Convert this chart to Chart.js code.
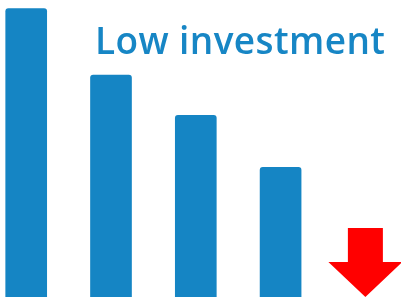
<!DOCTYPE html>
<html>
<head>
<meta charset="utf-8">
<script src="https://cdn.jsdelivr.net/npm/chart.js@4"></script>
<style>
  html, body { margin: 0; padding: 0; background: #fff; }
  #wrap { position: relative; width: 401px; height: 297px; }
  #titulo {
    position: absolute; left: 95px; top: 21px;
    font-family: "Open Sans", sans-serif; font-weight: 600; font-size: 37px;
    letter-spacing: 0.4px;
    color: #1786c5; white-space: nowrap; line-height: 1;
  }
</style>
</head>
<body>
<div id="wrap">
  <canvas id="grafico" width="401" height="297"></canvas>
  <div id="titulo"></div>
</div>
<script>
// dados do grafico
const tituloTexto = 'Low investment';
const posicoes = [0, 1, 2, 3];
const valores = [100, 77, 63, 45];
const posicaoSeta = 4; // slot onde fica a seta vermelha

document.querySelector('#titulo').textContent = tituloTexto;

// desenha a seta para baixo no ultimo slot, ancorada na base do grafico
const setaPlugin = {
    id: 'seta',
    afterDatasetsDraw(chart) {
        const ctx = chart.ctx;
        const x = chart.scales.x.getPixelForValue(posicaoSeta);
        const base = chart.chartArea.bottom;
        const hasteMeia = 17.5, cabecaMeia = 37, cabecaAlt = 35, topo = 69;
        ctx.save();
        ctx.fillStyle = '#ff0000';
        ctx.beginPath();
        ctx.moveTo(x - hasteMeia, base - topo);
        ctx.lineTo(x + hasteMeia, base - topo);
        ctx.lineTo(x + hasteMeia, base - cabecaAlt);
        ctx.lineTo(x + cabecaMeia, base - cabecaAlt);
        ctx.lineTo(x, base);
        ctx.lineTo(x - cabecaMeia, base - cabecaAlt);
        ctx.lineTo(x - hasteMeia, base - cabecaAlt);
        ctx.closePath();
        ctx.fill();
        ctx.restore();
    }
};

const grafico = new Chart(document.querySelector('#grafico'), {
    type: 'bar',
    data: {
        datasets: [{
            data: posicoes.map((p, i) => ({ x: p, y: valores[i] })),
            backgroundColor: '#1585c4',
            borderRadius: { topLeft: 3, topRight: 3, bottomLeft: 0, bottomRight: 0 },
            borderSkipped: 'start',
            barThickness: 41
        }]
    },
    options: {
        responsive: false,
        animation: false,
        layout: { padding: 0 },
        plugins: { legend: { display: false }, tooltip: { enabled: false }, title: { display: false } },
        scales: {
            x: { type: 'linear', min: -0.309, max: 4.42, offset: false, display: false },
            y: { min: 0, max: 103, display: false }
        }
    },
    plugins: [setaPlugin]
});
</script>
</body>
</html>
